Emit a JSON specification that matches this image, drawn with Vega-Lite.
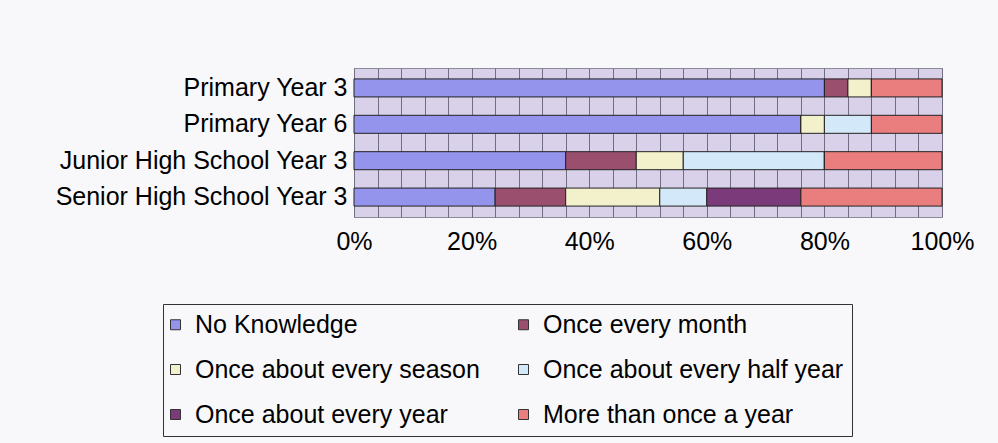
{
  "$schema": "https://vega.github.io/schema/vega-lite/v6.json",
  "autosize": "none",
  "width": 588,
  "height": 149,
  "padding": {"left": 354, "top": 68, "right": 56, "bottom": 226},
  "background": "#f8f8fb",
  "view": {"fill": "#d9d1ea", "stroke": "#8a8a9a", "strokeWidth": 1},
  "data": {
    "values": [
      {"group": "Primary Year 3", "answer": "No Knowledge", "pct": 80},
      {"group": "Primary Year 3", "answer": "Once every month", "pct": 4},
      {"group": "Primary Year 3", "answer": "Once about every season", "pct": 4},
      {"group": "Primary Year 3", "answer": "Once about every half year", "pct": 0},
      {"group": "Primary Year 3", "answer": "Once about every year", "pct": 0},
      {"group": "Primary Year 3", "answer": "More than once a year", "pct": 12},
      {"group": "Primary Year 6", "answer": "No Knowledge", "pct": 76},
      {"group": "Primary Year 6", "answer": "Once every month", "pct": 0},
      {"group": "Primary Year 6", "answer": "Once about every season", "pct": 4},
      {"group": "Primary Year 6", "answer": "Once about every half year", "pct": 8},
      {"group": "Primary Year 6", "answer": "Once about every year", "pct": 0},
      {"group": "Primary Year 6", "answer": "More than once a year", "pct": 12},
      {"group": "Junior High School Year 3", "answer": "No Knowledge", "pct": 36},
      {"group": "Junior High School Year 3", "answer": "Once every month", "pct": 12},
      {"group": "Junior High School Year 3", "answer": "Once about every season", "pct": 8},
      {"group": "Junior High School Year 3", "answer": "Once about every half year", "pct": 24},
      {"group": "Junior High School Year 3", "answer": "Once about every year", "pct": 0},
      {"group": "Junior High School Year 3", "answer": "More than once a year", "pct": 20},
      {"group": "Senior High School Year 3", "answer": "No Knowledge", "pct": 24},
      {"group": "Senior High School Year 3", "answer": "Once every month", "pct": 12},
      {"group": "Senior High School Year 3", "answer": "Once about every season", "pct": 16},
      {"group": "Senior High School Year 3", "answer": "Once about every half year", "pct": 8},
      {"group": "Senior High School Year 3", "answer": "Once about every year", "pct": 16},
      {"group": "Senior High School Year 3", "answer": "More than once a year", "pct": 24}
    ]
  },
  "transform": [
    {
      "calculate": "indexof(['No Knowledge', 'Once every month', 'Once about every season', 'Once about every half year', 'Once about every year', 'More than once a year'], datum.answer)",
      "as": "stackOrder"
    }
  ],
  "mark": {"type": "bar", "stroke": "#222222", "strokeWidth": 1},
  "encoding": {
    "y": {
      "field": "group",
      "type": "nominal",
      "sort": ["Primary Year 3", "Primary Year 6", "Junior High School Year 3", "Senior High School Year 3"],
      "scale": {"paddingInner": 0.505, "paddingOuter": 0.3},
      "axis": {
        "title": null,
        "ticks": false,
        "domain": false,
        "labelFont": "Liberation Sans",
        "labelFontSize": 25,
        "labelColor": "#000000",
        "labelPadding": 7,
        "labelLimit": 400
      }
    },
    "x": {
      "field": "pct",
      "type": "quantitative",
      "stack": "normalize",
      "scale": {"domain": [0, 1], "nice": false},
      "axis": {
        "title": null,
        "values": [0, 0.04, 0.08, 0.12, 0.16, 0.2, 0.24, 0.28, 0.32, 0.36, 0.4, 0.44, 0.48, 0.52, 0.56, 0.6, 0.64, 0.68, 0.72, 0.76, 0.8, 0.84, 0.88, 0.92, 0.96, 1],
        "labelExpr": "indexof(['0%','20%','40%','60%','80%','100%'], format(datum.value, '.0%')) >= 0 ? format(datum.value, '.0%') : ''",
        "grid": true,
        "gridColor": "#6f6f80",
        "gridWidth": 1,
        "ticks": false,
        "domain": false,
        "labelFlush": false,
        "labelFont": "Liberation Sans",
        "labelFontSize": 25,
        "labelColor": "#000000",
        "labelPadding": 12,
        "labelOverlap": false
      }
    },
    "order": {"field": "stackOrder", "type": "quantitative"},
    "color": {
      "field": "answer",
      "type": "nominal",
      "sort": ["No Knowledge", "Once every month", "Once about every season", "Once about every half year", "Once about every year", "More than once a year"],
      "scale": {
        "domain": ["No Knowledge", "Once every month", "Once about every season", "Once about every half year", "Once about every year", "More than once a year"],
        "range": ["#9494ec", "#9a4f6e", "#f3f1cc", "#d3e8f8", "#7b3b7b", "#ea7e7e"]
      },
      "legend": {
        "title": null,
        "orient": "none",
        "direction": "horizontal",
        "legendX": -191,
        "legendY": 236,
        "columns": 2,
        "columnPadding": 36,
        "rowPadding": 19,
        "padding": 8,
        "strokeColor": "#333333",
        "symbolType": "square",
        "symbolSize": 100,
        "symbolOffset": -8,
        "symbolStrokeColor": "#333333",
        "symbolStrokeWidth": 1,
        "labelFont": "Liberation Sans",
        "labelFontSize": 25,
        "labelColor": "#000000",
        "labelOffset": 7,
        "labelLimit": 400
      }
    }
  }
}
